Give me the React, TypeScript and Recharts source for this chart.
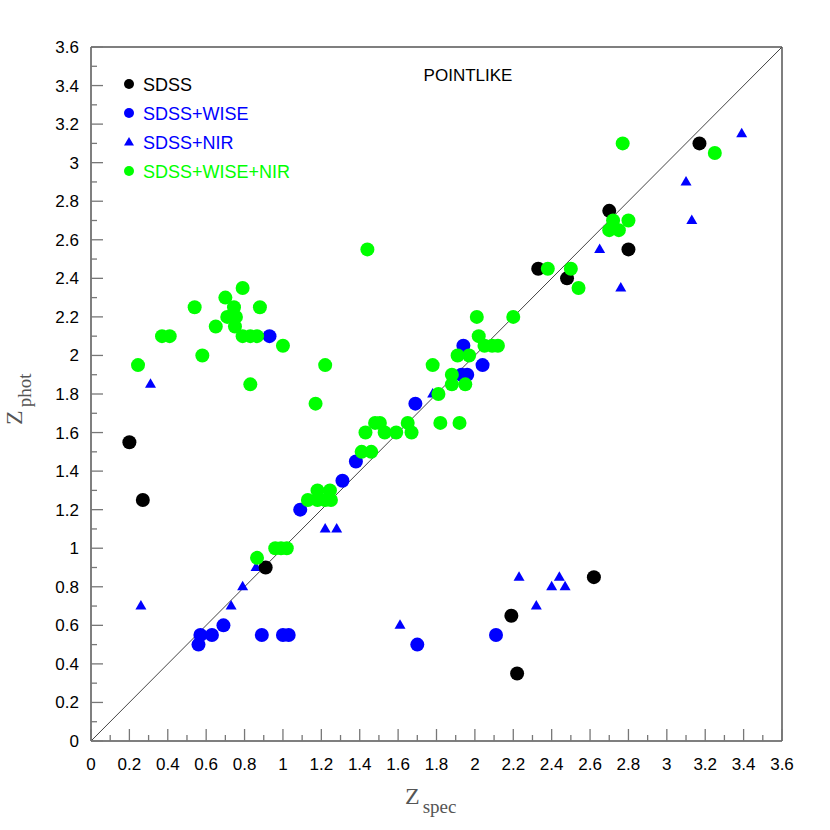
import { ScatterChart, Scatter, XAxis, YAxis, ReferenceLine } from 'recharts';

// spectroscopic vs photometric redshift
const sdssX = [0.2, 0.27, 0.91, 2.19, 2.22, 2.62, 2.33, 2.48, 2.7, 2.8, 3.17];
const sdssY = [1.55, 1.25, 0.9, 0.65, 0.35, 0.85, 2.45, 2.4, 2.75, 2.55, 3.1];

const wiseX = [0.56, 0.57, 0.63, 0.69, 0.89, 1.0, 1.03, 0.93, 1.09, 1.31, 1.38, 1.69, 1.7, 2.11, 1.94, 1.93, 1.96, 2.04];
const wiseY = [0.5, 0.55, 0.55, 0.6, 0.55, 0.55, 0.55, 2.1, 1.2, 1.35, 1.45, 1.75, 0.5, 0.55, 2.05, 1.9, 1.9, 1.95];

const nirX = [0.31, 0.26, 0.73, 0.79, 0.86, 1.22, 1.28, 1.61, 1.78, 2.23, 2.32, 2.4, 2.44, 2.47, 2.65, 2.76, 3.1, 3.13, 3.39];
const nirY = [1.85, 0.7, 0.7, 0.8, 0.9, 1.1, 1.1, 0.6, 1.8, 0.85, 0.7, 0.8, 0.85, 0.8, 2.55, 2.35, 2.9, 2.7, 3.15];

const allX = [
  0.245, 0.37, 0.41, 0.54, 0.58, 0.65, 0.7, 0.71, 0.745, 0.755, 0.75, 0.79, 0.79, 0.83, 0.865, 0.88, 0.83, 1.0, 1.17, 1.22, 1.44,
  0.865, 0.96, 0.99, 1.02, 1.13, 1.18, 1.18, 1.22, 1.245, 1.25, 1.41, 1.46, 1.43, 1.48, 1.505, 1.53, 1.59, 1.65, 1.67,
  1.78, 1.81, 1.82, 1.92, 1.88, 1.88, 1.95, 1.91, 1.97, 2.01, 2.02, 2.05, 2.09, 2.12, 2.2, 2.38, 2.5, 2.54,
  2.7, 2.75, 2.72, 2.8, 2.77, 3.25,
];
const allY = [
  1.95, 2.1, 2.1, 2.25, 2.0, 2.15, 2.3, 2.2, 2.25, 2.2, 2.15, 2.35, 2.1, 2.1, 2.1, 2.25, 1.85, 2.05, 1.75, 1.95, 2.55,
  0.95, 1.0, 1.0, 1.0, 1.25, 1.3, 1.25, 1.25, 1.3, 1.25, 1.5, 1.5, 1.6, 1.65, 1.65, 1.6, 1.6, 1.65, 1.6,
  1.95, 1.8, 1.65, 1.65, 1.9, 1.85, 1.85, 2.0, 2.0, 2.2, 2.1, 2.05, 2.05, 2.05, 2.2, 2.45, 2.45, 2.35,
  2.65, 2.65, 2.7, 2.7, 3.1, 3.05,
];

const axisTicks = [
  0, 0.1, 0.2, 0.3, 0.4, 0.5, 0.6, 0.7, 0.8, 0.9, 1, 1.1, 1.2, 1.3, 1.4, 1.5, 1.6, 1.7, 1.8, 1.9,
  2, 2.1, 2.2, 2.3, 2.4, 2.5, 2.6, 2.7, 2.8, 2.9, 3, 3.1, 3.2, 3.3, 3.4, 3.5, 3.6,
];
const legendNames = ['SDSS', 'SDSS+WISE', 'SDSS+NIR', 'SDSS+WISE+NIR'];

const zip = (xs: number[], ys: number[]) => xs.map((x, i) => ({ x, y: ys[i] }));

const BLACK = '#000000';
const BLUE = '#0000ff';
const GREEN = '#00ff00';
const SANS = '"Liberation Sans", Arial, Helvetica, sans-serif';
const SERIF = '"Liberation Serif", "Times New Roman", serif';

const isMajor = (v: number) => Math.round(v * 10) % 2 === 0;

const makeTick = (side: 'bottom' | 'top' | 'left' | 'right') => (props: any) => {
  const { x, y, payload } = props;
  const v = payload.value as number;
  const len = isMajor(v) ? 12 : 6;
  let line;
  if (side === 'bottom') line = <line x1={x} x2={x} y1={y} y2={y - len} />;
  else if (side === 'top') line = <line x1={x} x2={x} y1={y} y2={y + len} />;
  else if (side === 'left') line = <line x1={x} x2={x + len} y1={y} y2={y} />;
  else line = <line x1={x} x2={x - len} y1={y} y2={y} />;
  return (
    <g>
      <g stroke="#777" strokeWidth={1.3}>{line}</g>
      {side === 'bottom' && isMajor(v) && (
        <text x={x} y={y + 29} textAnchor="middle" fontSize={17} fontFamily={SANS} fill="#000">
          {String(v)}
        </text>
      )}
      {side === 'left' && isMajor(v) && (
        <text x={x - 12} y={y + 6} textAnchor="end" fontSize={17} fontFamily={SANS} fill="#000">
          {String(v)}
        </text>
      )}
    </g>
  );
};

const dot = (color: string) => (p: any) => <circle cx={p.cx} cy={p.cy} r={7} fill={color} />;
const tri = (color: string) => (p: any) => (
  <polygon points={`${p.cx - 5.5},${p.cy + 3.5} ${p.cx + 5.5},${p.cy + 3.5} ${p.cx},${p.cy - 6}`} fill={color} />
);

const axisLine = { stroke: '#555', strokeWidth: 1.5 };

export default function App() {
  const legendColors = [BLACK, BLUE, BLUE, GREEN];
  return (
    <div style={{ position: 'absolute', left: 0, top: 0, width: 830, height: 830, background: '#fff' }}>
      <ScatterChart width={830} height={830} margin={{ top: 46, right: 47, bottom: 88, left: 90 }}>
        <XAxis
          type="number" dataKey="x" xAxisId="b" orientation="bottom" domain={[0, 3.6]} ticks={axisTicks}
          interval={0} height={1} tickSize={0} tickMargin={0} axisLine={axisLine} tick={makeTick('bottom')}
        />
        <XAxis
          type="number" dataKey="x" xAxisId="t" orientation="top" domain={[0, 3.6]} ticks={axisTicks}
          interval={0} height={1} tickSize={0} tickMargin={0} axisLine={axisLine} tick={makeTick('top')}
        />
        <YAxis
          type="number" dataKey="y" yAxisId="l" orientation="left" domain={[0, 3.6]} ticks={axisTicks}
          interval={0} width={1} tickSize={0} tickMargin={0} axisLine={axisLine} tick={makeTick('left')}
        />
        <YAxis
          type="number" dataKey="y" yAxisId="r" orientation="right" domain={[0, 3.6]} ticks={axisTicks}
          interval={0} width={1} tickSize={0} tickMargin={0} axisLine={axisLine} tick={makeTick('right')}
        />
        <ReferenceLine xAxisId="b" yAxisId="l" segment={[{ x: 0, y: 0 }, { x: 3.6, y: 3.6 }]} stroke="#444" strokeWidth={1} />
        <Scatter xAxisId="b" yAxisId="l" data={zip(nirX, nirY)} shape={tri(BLUE)} isAnimationActive={false} />
        <Scatter xAxisId="b" yAxisId="l" data={zip(wiseX, wiseY)} shape={dot(BLUE)} isAnimationActive={false} />
        <Scatter xAxisId="b" yAxisId="l" data={zip(sdssX, sdssY)} shape={dot(BLACK)} isAnimationActive={false} />
        <Scatter xAxisId="b" yAxisId="l" data={zip(allX, allY)} shape={dot(GREEN)} isAnimationActive={false} />
      </ScatterChart>
      <svg width={830} height={830} style={{ position: 'absolute', left: 0, top: 0, pointerEvents: 'none' }}>
        <text x={468} y={81} textAnchor="middle" fontSize={17} fontFamily={SANS} fill="#000">POINTLIKE</text>
        {legendNames.map((name, i) => {
          const cy = 84 + i * 29;
          return (
            <g key={name}>
              {i === 2 ? (
                <polygon points={`${124},${cy + 3.5} ${134},${cy + 3.5} ${129},${cy - 5}`} fill={legendColors[i]} />
              ) : (
                <circle cx={129} cy={cy} r={5} fill={legendColors[i]} />
              )}
              <text x={143} y={cy + 6.5} fontSize={18} fontFamily={SANS} fill={legendColors[i]}>{name}</text>
            </g>
          );
        })}
        <text x={405} y={804} fontFamily={SERIF} fill="#555">
          <tspan fontSize={24}>Z</tspan>
          <tspan fontSize={19} dx={3} dy={9}>spec</tspan>
        </text>
        <text transform="translate(22,425) rotate(-90)" fontFamily={SERIF} fill="#555">
          <tspan fontSize={24}>Z</tspan>
          <tspan fontSize={19} dx={3} dy={9}>phot</tspan>
        </text>
      </svg>
    </div>
  );
}
